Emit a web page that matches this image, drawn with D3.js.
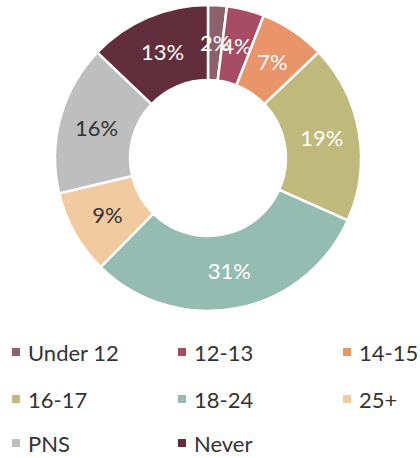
<!DOCTYPE html>
<html lang="en">
<head>
  <meta charset="UTF-8">
  <title>Age</title>
  <script src="https://d3js.org/d3.v7.min.js"></script>
  <style>
    body { margin: 0; background: #fff; font-family: Lato, "Open Sans", sans-serif; }
    #chart { width: 420px; height: 458px; }
  </style>
</head>
<body>
  <div id="chart"></div>
  <script>
    const categories = ["Under 12", "12-13", "14-15", "16-17", "18-24", "25+", "PNS", "Never"];
    const values = [2, 4, 7, 19, 31, 9, 16, 13];
    const colors = ["#8a616d", "#a64d63", "#ea946a", "#bfb97c", "#94bcb0", "#f2caa0", "#bebebe", "#632e3c"];
    const labelColors = ["#fff", "#fff", "#fff", "#fff", "#fff", "#333", "#333", "#fff"];

    const width = 420, height = 458;
    const cx = 208, cy = 158, outerR = 153, innerR = 78;

    const svg = d3.select("#chart").append("svg")
      .attr("width", width)
      .attr("height", height);

    const data = categories.map((c, i) => ({ cat: c, value: values[i], i: i }));
    const pie = d3.pie().sort(null).value(d => d.value);
    const arc = d3.arc().innerRadius(innerR).outerRadius(outerR);
    const arcs = pie(data);

    const g = svg.append("g").attr("transform", `translate(${cx},${cy})`);

    g.selectAll("path")
      .data(arcs)
      .enter().append("path")
      .attr("d", arc)
      .attr("fill", d => colors[d.data.i])
      .attr("stroke", "#fff")
      .attr("stroke-width", 2.5);

    g.selectAll("text")
      .data(arcs)
      .enter().append("text")
      .attr("transform", d => `translate(${arc.centroid(d)})`)
      .attr("text-anchor", "middle")
      .attr("dy", "0.36em")
      .attr("fill", d => labelColors[d.data.i])
      .style("font-size", "22px")
      .text(d => d.data.value + "%");

    // legend, 3 columns
    const colX = [12, 178, 343];
    const rowY = [353, 400, 444];
    const legend = svg.selectAll(".leg")
      .data(data)
      .enter().append("g")
      .attr("class", "leg")
      .attr("transform", d => `translate(${colX[d.i % 3]},${rowY[Math.floor(d.i / 3)]})`);

    legend.append("rect")
      .attr("x", 0).attr("y", -5)
      .attr("width", 8).attr("height", 8)
      .attr("fill", d => colors[d.i]);

    legend.append("text")
      .attr("x", 16)
      .attr("dy", "0.35em")
      .attr("fill", "#333")
      .style("font-size", "22px")
      .text(d => d.cat);
  </script>
</body>
</html>
